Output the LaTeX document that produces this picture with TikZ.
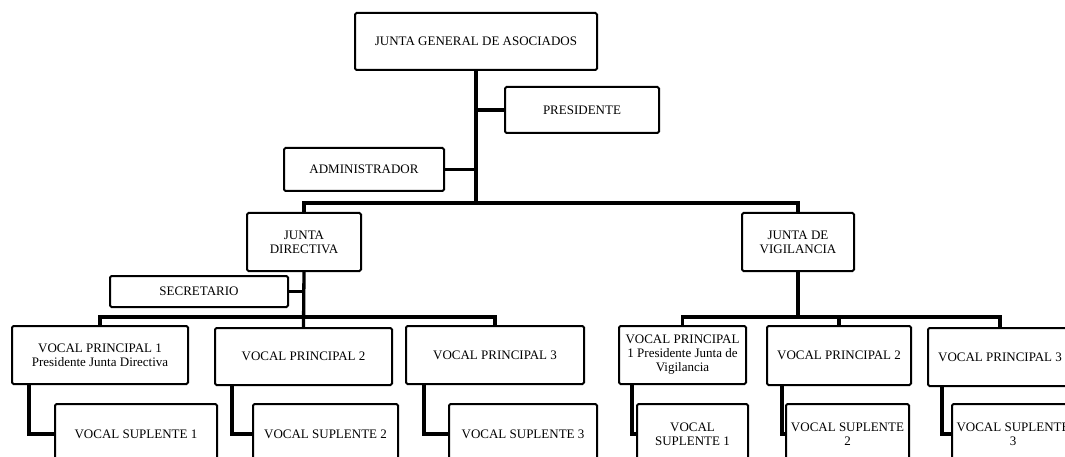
\documentclass[tikz,border=0pt]{standalone}
\usepackage{fontspec}
\setmainfont{Liberation Serif}
\usetikzlibrary{positioning}

\begin{document}
\begin{tikzpicture}[
  x=1pt, y=-1pt,
  box/.style={draw=black, line width=2pt, rounded corners=1.5pt, fill=white,
              align=center, inner sep=2pt,
              font=\fontsize{13}{14}\selectfont},
  link/.style={line width=3.3pt, black}
]
\useasboundingbox (0,0) rectangle (1065,457);
\clip (0,0) rectangle (1065,457);

% top level
\node[box, minimum width=242pt, minimum height=57pt] (jga) at (476,41.5) {JUNTA GENERAL DE ASOCIADOS};
\node[box, minimum width=154pt, minimum height=46pt] (pres) at (582,110) {PRESIDENTE};
\node[box, minimum width=160pt, minimum height=43pt] (admin) at (364,169.5) {ADMINISTRADOR};

\node[box, minimum width=114pt, minimum height=58pt] (jd) at (304,242) {JUNTA\\DIRECTIVA};
\node[box, minimum width=112pt, minimum height=58pt] (jv) at (798,242) {JUNTA DE\\VIGILANCIA};
\node[box, minimum width=178pt, minimum height=31pt] (secr) at (199,291.5) {SECRETARIO};

% junta directiva
\node[box, minimum width=176pt, minimum height=58pt] (vp1) at (100,355) {VOCAL PRINCIPAL 1\\Presidente Junta Directiva};
\node[box, minimum width=177pt, minimum height=57pt] (vp2) at (303.5,356.5) {VOCAL PRINCIPAL 2};
\node[box, minimum width=178pt, minimum height=58pt] (vp3) at (495,355) {VOCAL PRINCIPAL 3};
\node[box, minimum width=162pt, minimum height=60pt] (vs1) at (136,434) {VOCAL SUPLENTE 1};
\node[box, minimum width=145pt, minimum height=60pt] (vs2) at (325.5,434) {VOCAL SUPLENTE 2};
\node[box, minimum width=148pt, minimum height=60pt] (vs3) at (523,434) {VOCAL SUPLENTE 3};

% junta de vigilancia
\node[box, minimum width=127pt, minimum height=58pt] (vpr1) at (682.5,355) {VOCAL PRINCIPAL\\1 Presidente Junta de\\Vigilancia};
\node[box, minimum width=144pt, minimum height=59pt] (vpr2) at (839,355.5) {VOCAL PRINCIPAL 2};
\node[box, minimum width=144pt, minimum height=58pt] (vpr3) at (1000,357) {VOCAL PRINCIPAL 3};
\node[box, minimum width=111pt, minimum height=60pt] (vsr1) at (692.5,434) {VOCAL\\SUPLENTE 1};
\node[box, minimum width=123pt, minimum height=60pt] (vsr2) at (847.5,434) {VOCAL SUPLENTE\\2};
\node[box, minimum width=122pt, minimum height=60pt] (vsr3) at (1013,434) {VOCAL SUPLENTE\\3};

\coordinate (topbar) at (476,203);
\coordinate (jdbar) at (304,317);
\coordinate (jvbar) at (798,317);

% connectors
\draw[link] (jga.south) -- (topbar);
\draw[link] (pres.west) -- (pres.west -| topbar);
\draw[link] (admin.east) -- (admin.east -| topbar);
\draw[link] (jd.north) |- (topbar) -| (jv.north);

\draw[link] (secr.east) -- (secr.east -| jd.south);
\draw[link] (jd.south) -- (vp2.north);
\draw[link] (vp1.north) |- (jdbar) -| (vp3.north);

\draw[link] (jv.south) -- (jvbar);
\draw[link] (vpr1.north) |- (jvbar) -| (vpr3.north);
\draw[link] (vpr2.north) -- (vpr2.north |- jvbar);

\draw[link] ([xshift=18pt]vp1.south west) |- (vs1.west);
\draw[link] ([xshift=18pt]vp2.south west) |- (vs2.west);
\draw[link] ([xshift=19pt]vp3.south west) |- (vs3.west);
\draw[link] ([xshift=14pt]vpr1.south west) |- (vsr1.west);
\draw[link] ([xshift=16pt]vpr2.south west) |- (vsr2.west);
\draw[link] ([xshift=15pt]vpr3.south west) |- (vsr3.west);
\end{tikzpicture}
\end{document}
